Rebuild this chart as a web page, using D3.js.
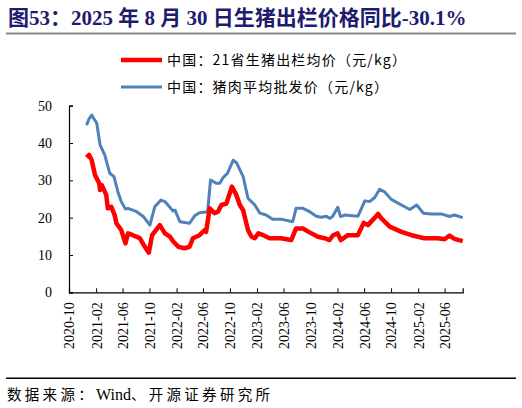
<!DOCTYPE html>
<html><head><meta charset="utf-8">
<script src="https://cdn.jsdelivr.net/npm/d3@7"></script>
<style>
html,body{margin:0;padding:0;background:#fff;}
svg{display:block;}
</style></head>
<body>
<svg id="c" width="522" height="408"></svg>
<script>
const seriesNames = ["中国：21省生猪出栏均价（元/kg）", "中国：猪肉平均批发价（元/kg）"];
const redDates = ["2020-12-20","2020-12-31","2021-01-12","2021-01-27","2021-02-15","2021-02-19","2021-02-27","2021-03-19","2021-03-26","2021-04-11","2021-04-26","2021-05-04","2021-05-26","2021-06-14","2021-06-26","2021-07-18","2021-08-18","2021-09-10","2021-09-28","2021-10-13","2021-11-17","2021-12-10","2022-01-02","2022-01-17","2022-02-09","2022-03-09","2022-04-01","2022-04-16","2022-05-16","2022-06-09","2022-06-15","2022-07-01","2022-07-23","2022-08-08","2022-08-23","2022-09-15","2022-10-10","2022-10-30","2022-11-15","2022-11-30","2022-12-22","2023-01-07","2023-01-22","2023-02-07","2023-03-01","2023-03-30","2023-05-21","2023-07-06","2023-07-28","2023-08-28","2023-10-05","2023-11-04","2023-12-04","2023-12-27","2024-01-12","2024-02-01","2024-02-16","2024-03-19","2024-05-03","2024-05-30","2024-06-18","2024-07-10","2024-08-03","2024-08-18","2024-09-25","2024-11-17","2025-01-02","2025-03-01","2025-05-01","2025-06-01","2025-06-23","2025-07-16","2025-08-22"];
const redValues = [36.1,36.8,35.4,31.4,29.2,27.4,28.7,26.1,22.5,22.9,20.7,18.5,16.7,13.1,15.8,15.3,14.5,12.2,10.6,15.3,18.0,15.8,14.9,13.6,12.2,11.8,12.2,14.5,15.3,16.7,16.2,22.5,21.2,21.6,23.4,23.8,28.3,26.1,23.4,22.0,16.7,14.9,14.5,15.8,15.3,14.5,14.5,14.0,17.1,17.1,15.8,14.9,14.5,14.0,15.3,15.8,14.0,15.3,15.3,18.6,18.0,19.4,21.0,19.8,17.6,16.2,15.3,14.5,14.5,14.2,15.2,14.3,13.7];
const blueDates = ["2020-12-20","2020-12-31","2021-01-12","2021-01-22","2021-02-04","2021-02-19","2021-03-12","2021-03-25","2021-04-04","2021-04-23","2021-05-11","2021-05-26","2021-06-14","2021-06-26","2021-08-04","2021-09-03","2021-10-03","2021-10-25","2021-11-22","2021-12-10","2022-01-16","2022-01-25","2022-02-16","2022-04-01","2022-04-24","2022-05-16","2022-06-22","2022-07-05","2022-08-01","2022-08-16","2022-09-01","2022-09-20","2022-10-16","2022-11-01","2022-11-30","2022-12-22","2023-01-22","2023-02-14","2023-03-14","2023-04-13","2023-05-20","2023-07-13","2023-07-28","2023-08-28","2023-09-28","2023-10-28","2023-11-19","2023-12-13","2023-12-27","2024-01-10","2024-02-02","2024-02-15","2024-03-04","2024-05-04","2024-06-04","2024-06-26","2024-07-19","2024-08-10","2024-09-02","2024-10-02","2024-11-17","2024-12-25","2025-01-25","2025-02-25","2025-04-01","2025-05-16","2025-06-23","2025-07-16","2025-08-22"];
const blueValues = [44.8,46.5,47.5,46.5,45.3,39.5,36.8,34.0,31.9,31.0,26.9,24.3,22.3,22.5,21.6,20.3,18.0,22.9,24.7,24.3,21.8,22.0,18.9,18.5,20.5,21.3,21.6,30.1,29.2,29.2,30.8,31.9,35.4,34.6,31.0,25.2,23.4,21.2,20.7,19.6,19.6,18.9,22.5,22.5,21.6,20.4,20.1,20.4,19.8,20.3,22.8,20.3,20.7,20.4,24.5,24.3,25.4,27.6,26.9,24.9,23.4,22.2,23.4,21.2,21.0,21.0,20.3,20.7,20.0];
const yTicks = [0,10,20,30,40,50];
const xTickLabels = ["2020-10","2021-02","2021-06","2021-10","2022-02","2022-06","2022-10","2023-02","2023-06","2023-10","2024-02","2024-06","2024-10","2025-02","2025-06"];
const titleText = "图53：2025 年 8 月 30 日生猪出栏价格同比-30.1%";
const sourceParts = ["数据来源：", "Wind", "、开源证券研究所"];

const parse = d3.timeParse("%Y-%m-%d");
const parseM = d3.timeParse("%Y-%m");
const svg = d3.select("#c");
const serif = "'Liberation Serif', serif";
const cjk = "'Liberation Serif', 'Noto Sans CJK SC', serif";

// title
svg.append("text").attr("x",8).attr("y",25)
  .style("font-family",cjk).style("font-weight","bold").style("font-size","21px")
  .attr("fill","#1E1C6E").text(titleText);
svg.append("line").attr("x1",6).attr("x2",516).attr("y1",33.5).attr("y2",33.5)
  .attr("stroke","#8a8a8a").attr("stroke-width",2);

const x = d3.scaleTime().domain([parse("2020-10-01"), parse("2025-08-22")]).range([69, 462.7]);
const y = d3.scaleLinear().domain([0,50]).range([292.3, 105.7]);

// axes
const yAxis = d3.axisLeft(y).tickValues(yTicks).tickSize(-4).tickPadding(17).tickFormat(d3.format("d"));
const gy = svg.append("g").attr("transform","translate(69,0)").call(yAxis);
gy.attr("font-family", null).attr("font-size", null);
gy.select(".domain").attr("stroke","#000").attr("stroke-width",1.2);
gy.selectAll(".tick line").attr("stroke","#000").attr("stroke-width",1);
gy.selectAll(".tick text").style("font-family",serif).style("font-size","14px").attr("fill","#000");

const xAxis = d3.axisBottom(x).tickValues(xTickLabels.map(parseM)).tickSize(-4).tickFormat(d3.timeFormat("%Y-%m"));
const gx = svg.append("g").attr("transform","translate(0,292.3)").call(xAxis);
gx.attr("font-family", null).attr("font-size", null);
gx.select(".domain").attr("stroke","#000").attr("stroke-width",1.2);
gx.selectAll(".tick line").attr("stroke","#000").attr("stroke-width",1);
gx.selectAll(".tick text").style("font-family",serif).style("font-size","14px").attr("fill","#000")
  .attr("transform","rotate(-90)").attr("text-anchor","end").attr("x",-10).attr("y",0).attr("dy","0.35em");

// lines
const line = d3.line().x(d=>x(d[0])).y(d=>y(d[1])).curve(d3.curveLinear);
const blueData = blueDates.map((d,i)=>[parse(d), blueValues[i]]);
const redData = redDates.map((d,i)=>[parse(d), redValues[i]]);
svg.append("path").datum(blueData).attr("d",line).attr("fill","none")
  .attr("stroke","#4F81BD").attr("stroke-width",3).attr("stroke-linejoin","round");
svg.append("path").datum(redData).attr("d",line).attr("fill","none")
  .attr("stroke","#FF0000").attr("stroke-width",4.5).attr("stroke-linejoin","round");

// legend
const leg = [{c:"#FF0000",w:4.5,y:60},{c:"#4F81BD",w:3,y:87}];
leg.forEach((l,i)=>{
  svg.append("line").attr("x1",121).attr("x2",162).attr("y1",l.y).attr("y2",l.y)
    .attr("stroke",l.c).attr("stroke-width",l.w);
  svg.append("text").attr("x",167).attr("y",l.y+5)
    .style("font-family","'Noto Sans CJK SC', sans-serif").style("font-size","14px")
    .style("letter-spacing","1.2px").attr("fill","#000").text(seriesNames[i]);
});

// source
svg.append("line").attr("x1",6).attr("x2",516).attr("y1",378.3).attr("y2",378.3)
  .attr("stroke","#000").attr("stroke-width",1.5);
const src = svg.append("text").attr("x",7).attr("y",400)
  .style("font-family","'Noto Sans CJK SC', serif").style("font-size","14.5px").attr("fill","#000");
src.append("tspan").style("letter-spacing","3.3px").text(sourceParts[0]);
src.append("tspan").style("font-family",serif).style("font-size","16px").text(sourceParts[1]);
src.append("tspan").style("letter-spacing","3.3px").text(sourceParts[2]);
</script>
</body></html>
